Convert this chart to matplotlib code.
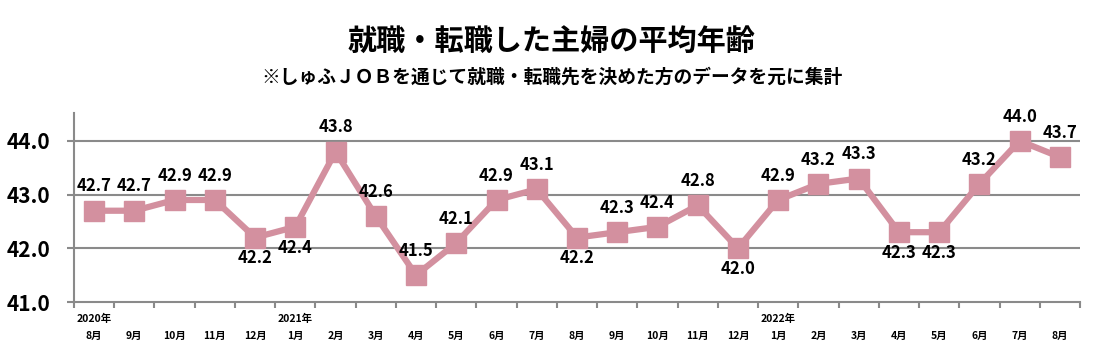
import numpy as np
import matplotlib.pyplot as plt

plt.rcParams['font.family'] = ['Noto Sans CJK JP', 'DejaVu Sans']

months = ['8月', '9月', '10月', '11月', '12月', '1月', '2月', '3月', '4月', '5月', '6月', '7月',
          '8月', '9月', '10月', '11月', '12月', '1月', '2月', '3月', '4月', '5月', '6月', '7月', '8月']
years = {0: '2020年', 5: '2021年', 17: '2022年'}
ages = [42.7, 42.7, 42.9, 42.9, 42.2, 42.4, 43.8, 42.6, 41.5, 42.1, 42.9, 43.1,
        42.2, 42.3, 42.4, 42.8, 42.0, 42.9, 43.2, 43.3, 42.3, 42.3, 43.2, 44.0, 43.7]
below = [4, 5, 12, 16, 20, 21]

color = '#D3909F'
grid_c = '#8a8a8a'

fig = plt.figure(figsize=(11.03, 3.62), dpi=100)
ax = fig.add_axes([74 / 1103, (362 - 302) / 362, (1080 - 74) / 1103, (302 - 113) / 362])

x = np.arange(len(ages))
ax.plot(x, ages, color=color, lw=4.5, marker='s', markersize=14, zorder=3)

for i, v in enumerate(ages):
    dy = -15 if i in below else 17.5
    ax.annotate(f'{v:.1f}', (i, v), xytext=(0, dy), textcoords='offset points',
                ha='center', va='center', fontsize=12, fontweight='bold')

ax.set_xlim(-0.5, len(ages) - 0.5)
ax.set_ylim(41, 44.52)
ax.set_yticks([41, 42, 43, 44])
ax.set_yticklabels(['41.0', '42.0', '43.0', '44.0'], fontsize=15, fontweight='bold')
for y in [42, 43, 44]:
    ax.axhline(y, color=grid_c, lw=1.5, zorder=1)

ax.set_xticks(np.arange(-0.5, len(ages), 1))
ax.set_xticklabels([])
ax.tick_params(axis='x', length=4, color=grid_c, width=1.5)
ax.tick_params(axis='y', length=5, color=grid_c, width=1.5, pad=12)

for s in ['top', 'right']:
    ax.spines[s].set_visible(False)
for s in ['left', 'bottom']:
    ax.spines[s].set_color(grid_c)
    ax.spines[s].set_linewidth(1.5)

trans = ax.get_xaxis_transform()
for i, m in enumerate(months):
    ax.text(i, -0.18, m, transform=trans, ha='center', va='center', fontsize=7.5, fontweight='bold')
for i, yl in years.items():
    ax.text(i, -0.09, yl, transform=trans, ha='center', va='center', fontsize=7.5, fontweight='bold')

fig.text(0.5, 1 - 42 / 362, '就職・転職した主婦の平均年齢', ha='center', va='center',
         fontsize=21, fontweight='bold')
fig.text(0.5, 1 - 77 / 362, '※しゅふＪＯＢを通じて就職・転職先を決めた方のデータを元に集計',
         ha='center', va='center', fontsize=13.5, fontweight='bold')

fig.savefig('out.png', dpi=100)
